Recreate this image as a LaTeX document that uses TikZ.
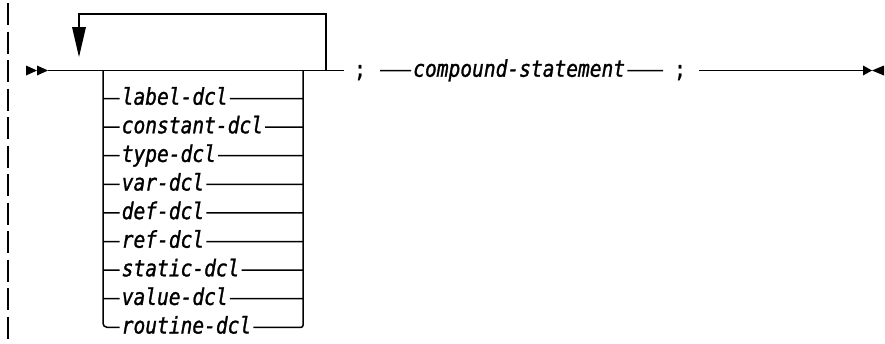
\documentclass[tikz,border=0pt]{standalone}
\usepackage{fontspec}
\newfontfamily\dclfont{DejaVu Sans Mono}[FakeStretch=0.85,FakeBold=1.2]
\begin{document}
\begin{tikzpicture}[x=1bp,y=-1bp,line width=1.5bp,
  opt/.style={font=\dclfont\itshape\fontsize{23bp}{27bp}\selectfont,inner xsep=1.5bp,inner ysep=0pt,anchor=base west},
  semi/.style={font=\dclfont\fontsize{23bp}{27bp}\selectfont,inner sep=0pt,anchor=base},
  tip/.style={fill=black,draw=none}]
\useasboundingbox (0,0) rectangle (885,343);
% change bar
\coordinate (cbt) at (8,3);
\coordinate (cbb) at (8,343);
\draw[line width=1.3bp,dash pattern=on 22bp off 6.5bp] (cbt) -- (cbb);
% start double arrow
\coordinate (start) at (48,70.5);
\fill[tip] (26,65.5) -- (37,70.5) -- (26,75.5) -- cycle;
\fill[tip] (37,65.5) -- (48,70.5) -- (37,75.5) -- cycle;
% junctions
\coordinate (bl) at (103,70.5);
\coordinate (br) at (303,70.5);
\coordinate (lr) at (326,70.5);
\coordinate (lt) at (326,14);
\coordinate (ll) at (79,14);
\coordinate (la) at (79,28);
\coordinate (mainend) at (344,70.5);
\draw (start) -- (mainend);
% loop back
\draw (lr) -- (lt) -- (ll) -- (la);
\fill[tip] (72,27) -- (86,27) -- (79,57) -- cycle;
% options
\foreach \n/\t [count=\i from 0] in {label/label-dcl,constant/constant-dcl,type/type-dcl,var/var-dcl,def/def-dcl,ref/ref-dcl,static/static-dcl,value/value-dcl}{
  \pgfmathsetmacro\yy{98.5+28.6*\i}
  \node[opt] (\n) at (119.5,\yy+6.2) {\t};
  \draw (103,\yy) -- ([yshift=6.2bp]\n.base west);
  \draw ([yshift=6.2bp]\n.base east) -- (303,\yy);
}
\node[opt] (routine) at (119.5,333.5) {routine-dcl};
\draw[rounded corners=4bp] (bl) -- (103,327.3) -- ([yshift=6.2bp]routine.base west);
\draw[rounded corners=2bp] ([yshift=6.2bp]routine.base east) -- (303,327.3) -- (br);
% rest of line
\node[semi] (s1) at (360,77) {;};
\coordinate (c1) at (380,70.5);
\node[opt] (cs) at (411,76.7) {compound-statement};
\draw (c1) -- ([yshift=6.2bp]cs.base west);
\coordinate (c2) at (663,70.5);
\draw ([yshift=6.2bp]cs.base east) -- (c2);
\node[semi] (s2) at (680,77) {;};
\coordinate (c3) at (699,70.5);
\coordinate (c4) at (866,70.5);
\draw (c3) -- (c4);
\fill[tip] (863,65.5) -- (872,70.5) -- (863,75.5) -- cycle;
\fill[tip] (884,65.5) -- (872,70.5) -- (884,75.5) -- cycle;
\end{tikzpicture}
\end{document}
